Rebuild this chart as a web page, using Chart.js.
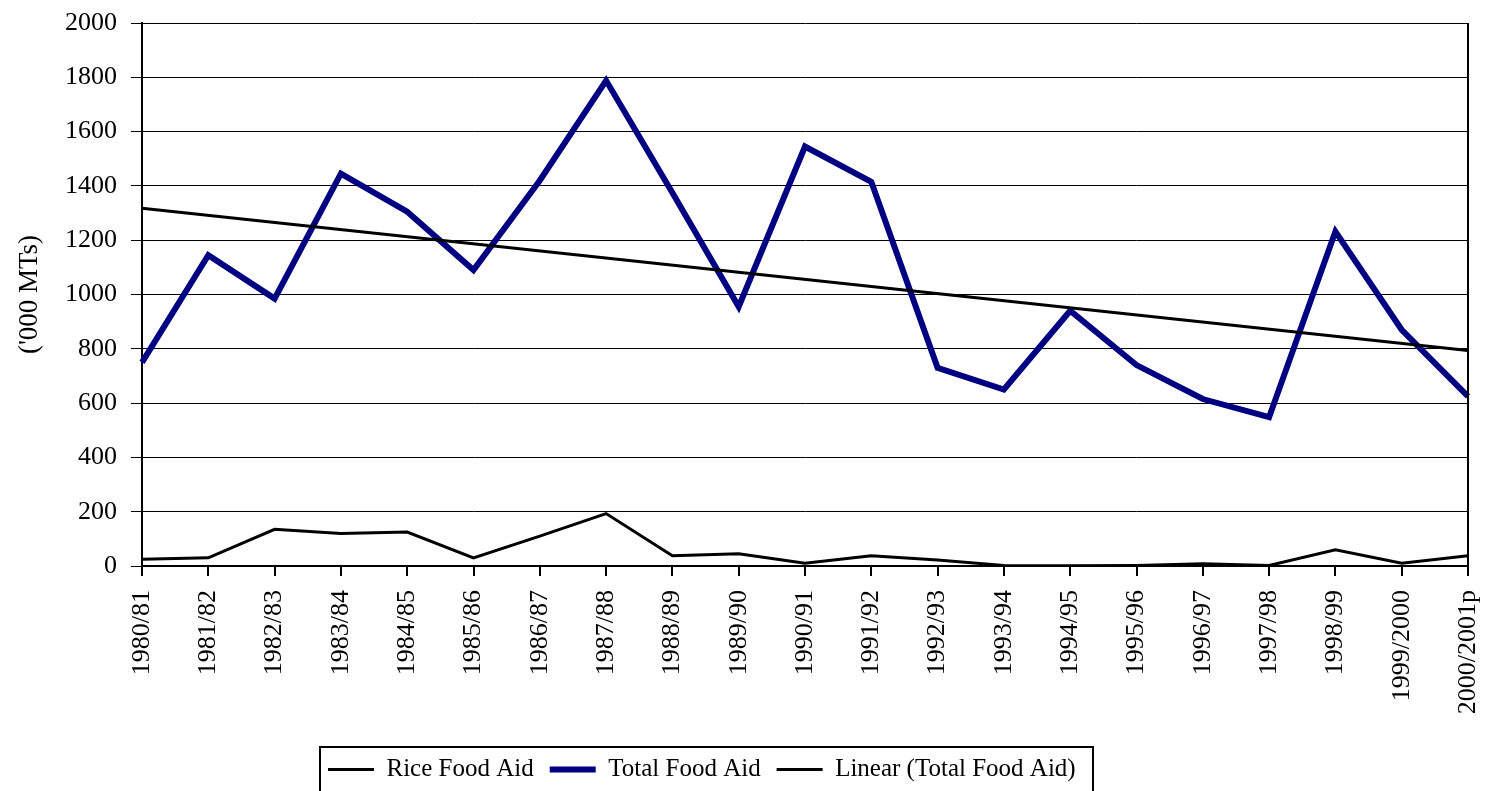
<!DOCTYPE html>
<html>
<head>
<meta charset="utf-8">
<script src="https://cdn.jsdelivr.net/npm/chart.js@4"></script>
<style>
  html, body { margin: 0; padding: 0; background: #fff; }
  #wrap { width: 1485px; height: 791px; position: relative; }
</style>
</head>
<body>
<div id="wrap"><canvas id="c"></canvas></div>
<script>
const categories = ["1980/81","1981/82","1982/83","1983/84","1984/85","1985/86","1986/87","1987/88","1988/89","1989/90","1990/91","1991/92","1992/93","1993/94","1994/95","1995/96","1996/97","1997/98","1998/99","1999/2000","2000/2001p"];
const riceFoodAid = [25, 30, 135, 120, 125, 30, 110, 193, 38, 45, 10, 38, 22, 2, 1, 2, 8, 2, 60, 10, 38];
const totalFoodAid = [750, 1145, 985, 1445, 1305, 1090, 1420, 1788, 1375, 955, 1545, 1415, 730, 650, 940, 740, 615, 548, 1232, 870, 625];
// linear trend line, read at its two ends (drawn straight between them)
const linearTotal = [1318, null, null, null, null, null, null, null, null, null, null, null, null, null, null, null, null, null, null, null, 794];
const yTicks = { min: 0, max: 2000, step: 200 };
const seriesNames = ["Rice Food Aid", "Total Food Aid", "Linear (Total Food Aid)"];

const FONT = "'Liberation Serif', 'Times New Roman', serif";
const LEGEND_PAD = 16;
const LEGEND_BOX = { left: 320, right: 1093, top: 747 };

const framePlugin = {
  id: 'frame',
  afterLayout(chart) {
    const lg = chart.legend;
    if (lg) {
      lg.left = LEGEND_BOX.left - 8;
      lg.right = LEGEND_BOX.right;
      lg.width = lg.right - lg.left;
      lg.top = lg.top + 1;
      lg.bottom = lg.top + lg.height;
    }
  },
  afterDraw(chart) {
    const ctx = chart.ctx;
    const a = chart.chartArea;
    ctx.save();
    ctx.strokeStyle = '#000';
    ctx.lineWidth = 2;
    ctx.beginPath();
    ctx.moveTo(a.right, a.top);
    ctx.lineTo(a.right, a.bottom);
    ctx.stroke();
    ctx.strokeRect(LEGEND_BOX.left, LEGEND_BOX.top, LEGEND_BOX.right - LEGEND_BOX.left, chart.height - LEGEND_BOX.top + 20);
    ctx.restore();
  }
};

new Chart(document.getElementById('c'), {
  type: 'line',
  data: {
    labels: categories,
    datasets: [
      { label: seriesNames[0], data: riceFoodAid, borderColor: '#000000', backgroundColor: '#000000', borderWidth: 3, pointRadius: 0, tension: 0, order: 2 },
      { label: seriesNames[1], data: totalFoodAid, borderColor: '#000080', backgroundColor: '#000080', borderWidth: 6, pointRadius: 0, tension: 0, order: 1 },
      { label: seriesNames[2], data: linearTotal, borderColor: '#000000', backgroundColor: '#000000', borderWidth: 3, pointRadius: 0, tension: 0, spanGaps: true, order: 0 }
    ]
  },
  options: {
    responsive: true,
    maintainAspectRatio: false,
    animation: false,
    layout: { padding: { top: 23, right: 17, left: 0, bottom: 0 } },
    plugins: {
      tooltip: { enabled: false },
      legend: {
        position: 'bottom',
        align: 'start',
        labels: {
          usePointStyle: true,
          pointStyle: 'line',
          pointStyleWidth: 46,
          padding: LEGEND_PAD,
          color: '#000',
          font: { family: FONT, size: 25 },
          sort: (a, b) => a.datasetIndex - b.datasetIndex
        }
      }
    },
    scales: {
      x: {
        offset: false,
        grid: { display: true, drawOnChartArea: false, drawTicks: true, tickLength: 10, color: '#000', lineWidth: 2 },
        border: { display: true, color: '#000', width: 2 },
        ticks: { autoSkip: false, maxRotation: 90, minRotation: 90, padding: 14, color: '#000', font: { family: FONT, size: 26 } },
        afterFit(scale) { scale.height = 174; scale.paddingLeft = 0; scale.paddingRight = 0; }
      },
      y: {
        min: yTicks.min,
        max: yTicks.max,
        grid: { color: '#000', lineWidth: 1, tickLength: 11, drawTicks: true },
        border: { display: true, color: '#000', width: 2 },
        ticks: { stepSize: yTicks.step, padding: 14, color: '#000', font: { family: FONT, size: 26 }, callback: (v) => String(v) },
        title: { display: true, text: "('000 MTs)", color: '#000', padding: { top: 14, bottom: 0 }, font: { family: FONT, size: 27 } },
        afterFit(scale) { scale.width = 142; scale.paddingTop = 0; scale.paddingBottom = 0; }
      }
    }
  },
  plugins: [framePlugin]
});
</script>
</body>
</html>
